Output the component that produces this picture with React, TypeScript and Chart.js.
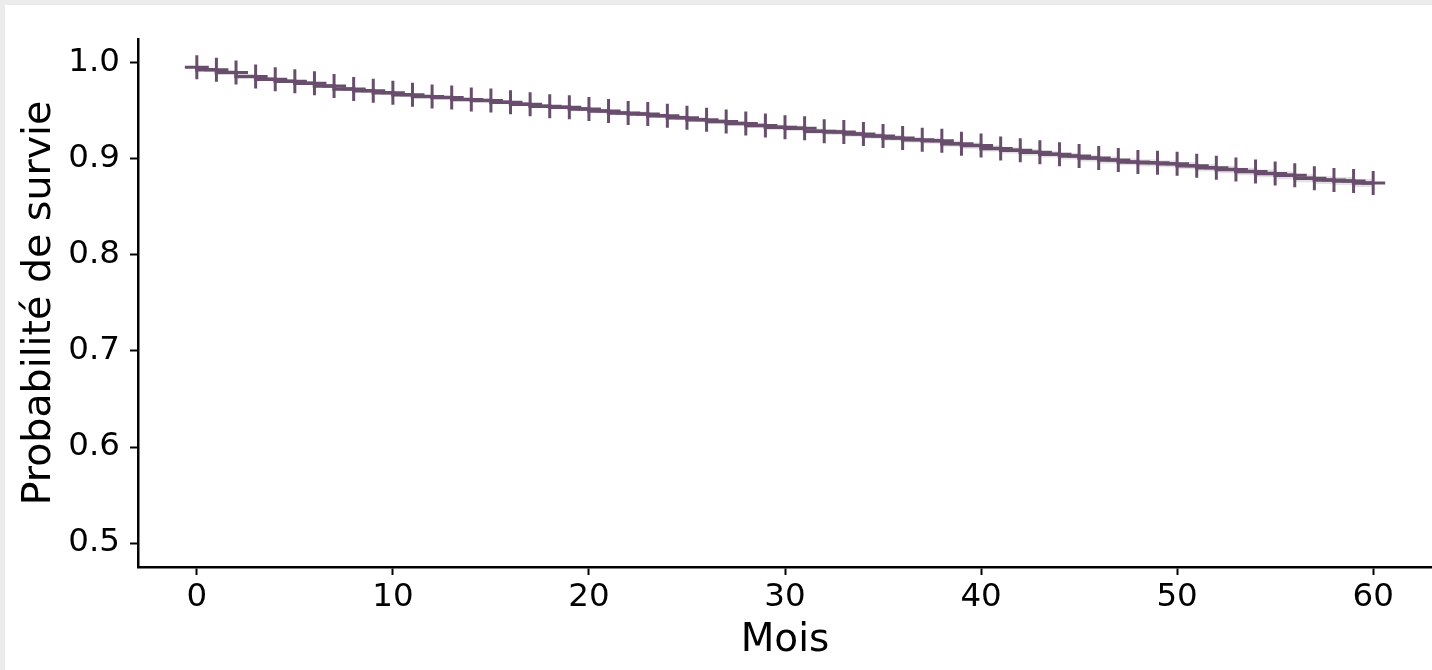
import React, { useEffect, useRef } from "react";
import { Chart, registerables } from "chart.js";

Chart.register(...registerables);

const months: number[] = [
  0, 1, 2, 3, 4, 5, 6, 7, 8, 9, 10, 11, 12, 13, 14, 15, 16, 17, 18, 19, 20,
  21, 22, 23, 24, 25, 26, 27, 28, 29, 30, 31, 32, 33, 34, 35, 36, 37, 38, 39, 40,
  41, 42, 43, 44, 45, 46, 47, 48, 49, 50, 51, 52, 53, 54, 55, 56, 57, 58, 59, 60,
];

const survival: number[] = [
  0.9955, 0.993, 0.99, 0.986, 0.983, 0.981, 0.979, 0.976, 0.973, 0.971, 0.969,
  0.967, 0.965, 0.964, 0.962, 0.961, 0.959, 0.957, 0.955, 0.954, 0.952,
  0.95, 0.948, 0.947, 0.945, 0.943, 0.941, 0.939, 0.937, 0.935, 0.933,
  0.932, 0.929, 0.928, 0.926, 0.924, 0.922, 0.92, 0.919, 0.916, 0.914,
  0.911, 0.909, 0.907, 0.905, 0.903, 0.901, 0.899, 0.897, 0.896, 0.895,
  0.893, 0.891, 0.889, 0.887, 0.885, 0.883, 0.88, 0.878, 0.877, 0.875,
];

const ciLower: number[] = [
  0.9949, 0.9922, 0.989, 0.9849, 0.9818, 0.9797, 0.9776, 0.9745, 0.9714, 0.9694, 0.9673,
  0.9652, 0.9632, 0.9621, 0.9601, 0.959, 0.957, 0.9549, 0.9529, 0.9518, 0.9498,
  0.9477, 0.9457, 0.9446, 0.9426, 0.9405, 0.9385, 0.9364, 0.9344, 0.9323, 0.9303,
  0.9292, 0.9262, 0.9251, 0.9231, 0.921, 0.919, 0.9169, 0.9159, 0.9128, 0.9108,
  0.9077, 0.9057, 0.9036, 0.9016, 0.8995, 0.8975, 0.8954, 0.8934, 0.8923, 0.8913,
  0.8892, 0.8872, 0.8851, 0.8831, 0.881, 0.879, 0.8759, 0.8739, 0.8728, 0.8708,
];

const ciUpper: number[] = [
  0.9961, 0.9938, 0.991, 0.9871, 0.9842, 0.9823, 0.9804, 0.9775, 0.9746, 0.9726, 0.9707,
  0.9688, 0.9668, 0.9659, 0.9639, 0.963, 0.961, 0.9591, 0.9571, 0.9562, 0.9542,
  0.9523, 0.9503, 0.9494, 0.9474, 0.9455, 0.9435, 0.9416, 0.9396, 0.9377, 0.9357,
  0.9348, 0.9318, 0.9309, 0.9289, 0.927, 0.925, 0.9231, 0.9221, 0.9192, 0.9172,
  0.9143, 0.9123, 0.9104, 0.9084, 0.9065, 0.9045, 0.9026, 0.9006, 0.8997, 0.8987,
  0.8968, 0.8948, 0.8929, 0.8909, 0.889, 0.887, 0.8841, 0.8821, 0.8812, 0.8792,
];

const xTicks: number[] = [0, 10, 20, 30, 40, 50, 60];
const yTicks: number[] = [0.5, 0.6, 0.7, 0.8, 0.9, 1.0];

const xTitle = "Mois";
const yTitle = "Probabilité de survie";

const LINE_COLOR = "rgb(104,78,108)";
const BAND_COLOR = "rgba(185,180,188,0.4)";
const FONT = "'DejaVu Sans', sans-serif";

export default function App() {
  const canvasRef = useRef<HTMLCanvasElement | null>(null);

  useEffect(() => {
    document.body.style.margin = "0";
    const canvas = canvasRef.current;
    if (!canvas) return;

    const pts = (vals: number[]) => months.map((m, i) => ({ x: m, y: vals[i] }));

    const chart = new Chart(canvas, {
      type: "line",
      data: {
        datasets: [
          {
            label: "survie",
            data: pts(survival),
            stepped: "after",
            borderColor: LINE_COLOR,
            borderWidth: 3.5,
            pointStyle: "cross",
            pointRadius: 12,
            pointBorderWidth: 3,
            pointBorderColor: LINE_COLOR,
            pointBackgroundColor: LINE_COLOR,
            fill: false,
          },
          {
            label: "lower",
            data: pts(ciLower),
            stepped: "after",
            borderWidth: 0,
            pointRadius: 0,
            borderColor: "rgba(0,0,0,0)",
            fill: false,
          },
          {
            label: "upper",
            data: pts(ciUpper),
            stepped: "after",
            borderWidth: 0,
            pointRadius: 0,
            borderColor: "rgba(0,0,0,0)",
            backgroundColor: BAND_COLOR,
            fill: "-1",
          },
        ],
      },
      options: {
        animation: false,
        responsive: false,
        maintainAspectRatio: false,
        layout: { autoPadding: false, padding: { top: 39, right: 0, left: 0, bottom: 0 } },
        plugins: {
          legend: { display: false },
          tooltip: { enabled: false },
        },
        events: [],
        scales: {
          x: {
            type: "linear",
            min: -3,
            max: 63,
            afterFit: (scale: any) => {
              scale.height = 103;
            },
            afterBuildTicks: (scale: any) => {
              scale.ticks = xTicks.map((v) => ({ value: v }));
            },
            ticks: {
              color: "#000",
              font: { family: FONT, size: 32.5 },
              padding: 3,
              maxRotation: 0,
              autoSkip: false,
              callback: (v: any) => String(v),
            },
            grid: {
              display: true,
              drawOnChartArea: false,
              drawTicks: true,
              tickLength: 8,
              tickColor: "#000",
              tickWidth: 2,
            },
            border: { display: true, color: "#000", width: 2.5 },
            title: {
              display: true,
              text: xTitle,
              color: "#000",
              font: { family: FONT, size: 39 },
              padding: { top: 0, bottom: 6 },
            },
          },
          y: {
            type: "linear",
            min: 0.475,
            max: 1.025,
            afterFit: (scale: any) => {
              scale.width = 138;
            },
            afterBuildTicks: (scale: any) => {
              scale.ticks = yTicks.map((v) => ({ value: v }));
            },
            ticks: {
              color: "#000",
              font: { family: FONT, size: 32.5 },
              padding: 10,
              autoSkip: false,
              callback: (v: any) => Number(v).toFixed(1),
            },
            grid: {
              display: true,
              drawOnChartArea: false,
              drawTicks: true,
              tickLength: 8,
              tickColor: "#000",
              tickWidth: 2,
            },
            border: { display: true, color: "#000", width: 2.5 },
            title: {
              display: true,
              text: yTitle,
              color: "#000",
              font: { family: FONT, size: 39.5 },
              padding: { top: 16, bottom: 0 },
            },
          },
        },
      },
    } as any);

    return () => {
      chart.destroy();
    };
  }, []);

  return (
    <div
      style={{
        position: "fixed",
        left: 0,
        top: 0,
        width: 1432,
        height: 670,
        background: "#fff",
        overflow: "hidden",
      }}
    >
      <div style={{ position: "absolute", left: 0, top: 0, width: 1432, height: 5, background: "#ebebeb" }} />
      <div style={{ position: "absolute", left: 0, top: 0, width: 5, height: 670, background: "#ebebeb" }} />
      <canvas
        ref={canvasRef}
        width={1432}
        height={670}
        style={{ position: "absolute", left: 0, top: 0, width: 1432, height: 670 }}
      />
    </div>
  );
}
